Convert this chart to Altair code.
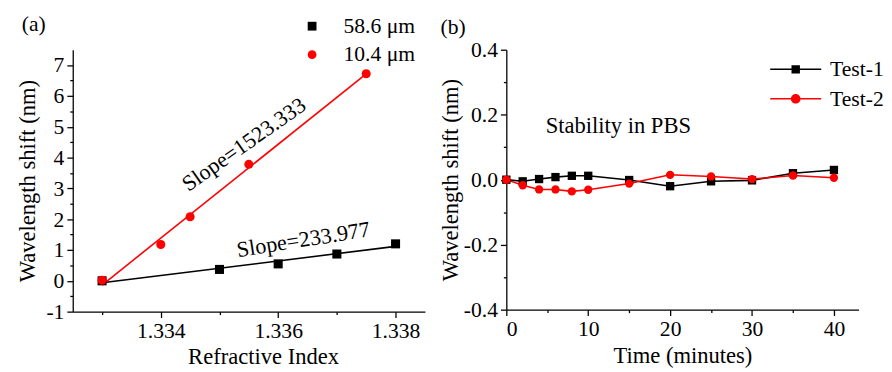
import altair as alt
import pandas as pd

FONT = "Liberation Serif"

# ---------- panel (a) data ----------
series_a = ["58.6 μm", "10.4 μm"]
colors = ["#000000", "#ff0000"]
ri_58 = [1.333, 1.335, 1.336, 1.337, 1.338]
shift_58 = [0.0, 0.37, 0.55, 0.87, 1.20]
ri_10 = [1.333, 1.334, 1.3345, 1.3355, 1.3375]
shift_10 = [0.02, 1.18, 2.08, 3.78, 6.72]

slope_text = ["Slope=1523.333", "Slope=233.977"]
slope_ri = [1.33542, 1.33643]
slope_shift = [4.42, 1.33]
slope_angle = [325, 351]

xa_ticks = [1.333, 1.334, 1.335, 1.336, 1.337, 1.338]
ya_ticks = [-1, -0.5, 0, 0.5, 1, 1.5, 2, 2.5, 3, 3.5, 4, 4.5, 5, 5.5, 6, 6.5, 7]

# ---------- panel (b) data ----------
series_b = ["Test-1", "Test-2"]
time_min = [0, 2, 4, 6, 8, 10, 15, 20, 25, 30, 35, 40]
test1 = [0.0, -0.005, 0.002, 0.008, 0.012, 0.012, -0.001, -0.02, -0.005, -0.002, 0.02, 0.03]
test2 = [0.0, -0.017, -0.03, -0.03, -0.036, -0.031, -0.012, 0.015, 0.01, 0.002, 0.013, 0.006]
note_text = ["Stability in PBS"]
note_time = [4.8]
note_shift = [0.165]

xb_ticks = [0, 5, 10, 15, 20, 25, 30, 35, 40]
yb_ticks = [-0.4, -0.3, -0.2, -0.1, 0, 0.1, 0.2, 0.3, 0.4]

# ---------- tables ----------
df_a = pd.DataFrame({
    "ri": ri_58 + ri_10,
    "shift": shift_58 + shift_10,
    "series": [series_a[0]] * len(ri_58) + [series_a[1]] * len(ri_10),
})
df_slope = pd.DataFrame({"ri": slope_ri, "shift": slope_shift, "text": slope_text, "angle": slope_angle})

df_b = pd.DataFrame({
    "time": time_min + time_min,
    "shift": test1 + test2,
    "series": [series_b[0]] * len(time_min) + [series_b[1]] * len(time_min),
})
df_note = pd.DataFrame({"time": note_time, "shift": note_shift, "text": note_text})

def tick_size(test):
    return {"condition": {"test": test, "value": 6}, "value": 3}

# ---------- panel (a) ----------
xa_major = "round(datum.value*1000) % 2 == 0"
xa = alt.X("ri:Q", scale=alt.Scale(domain=[1.3325, 1.3385], nice=False, zero=False),
           axis=alt.Axis(title="Refractive Index", values=xa_ticks,
                         labelExpr=f"{xa_major} ? format(datum.value, '.3f') : ''",
                         tickSize=tick_size(xa_major), titleX=194, titlePadding=5))
ya_major = "datum.value % 1 == 0"
ya = alt.Y("shift:Q", scale=alt.Scale(domain=[-1, 7.5], nice=False, zero=False),
           axis=alt.Axis(title="Wavelength shift (nm)", values=ya_ticks,
                         labelExpr=f"{ya_major} ? ((datum.value < 0 ? '-' : '') + format(abs(datum.value), 'd')) : ''",
                         tickSize=tick_size(ya_major), titlePadding=7))
color_a_scale = alt.Scale(domain=series_a, range=colors)
color_a_cond = alt.condition(f"datum.series == '{series_a[0]}'", alt.value(colors[0]), alt.value(colors[1]))

fit_a = alt.Chart(df_a).transform_regression(
    "ri", "shift", groupby=["series"]
).mark_line(strokeWidth=1.6).encode(
    x=xa, y=ya, color=color_a_cond, detail="series:N"
)
legend_a = alt.Legend(title=None, orient="none", legendX=233, legendY=-35, padding=0,
                      labelFont=FONT, labelFontSize=22, labelColor="black",
                      symbolSize=80, symbolStrokeWidth=0, labelOffset=21, rowPadding=7)
pts_a = alt.Chart(df_a).mark_point(filled=True, size=85, opacity=1).encode(
    x=xa, y=ya,
    color=alt.Color("series:N", scale=color_a_scale, legend=legend_a),
    shape=alt.Shape("series:N", scale=alt.Scale(domain=series_a, range=["square", "circle"]), legend=legend_a),
)
txt_a = alt.Chart(df_slope).mark_text(font=FONT, fontSize=22.5, align="center", baseline="middle", color="black").encode(
    x=xa, y=ya, text="text:N", angle=alt.Angle("angle:Q", scale=None)
)
panel_a = alt.layer(fit_a, pts_a, txt_a).properties(
    width=359, height=267,
    title=alt.TitleParams("(a)", anchor="start", frame="group", font=FONT, fontSize=22,
                          fontWeight="normal", color="black", dx=-52, offset=-21),
)

# ---------- panel (b) ----------
xb_major = "datum.value % 10 == 0"
xb = alt.X("time:Q", scale=alt.Scale(domain=[0, 43], nice=False, zero=False),
           axis=alt.Axis(title="Time (minutes)", values=xb_ticks,
                         labelExpr=f"{xb_major} ? format(datum.value, 'd') : ''",
                         tickSize=tick_size(xb_major), titlePadding=6))
yb_major = "round(datum.value*10) % 2 == 0"
yb = alt.Y("shift:Q", scale=alt.Scale(domain=[-0.4, 0.4], nice=False, zero=False),
           axis=alt.Axis(title="Wavelength shift (nm)", values=yb_ticks,
                         labelExpr=f"{yb_major} ? ((datum.value < -0.0001 ? '-' : '') + format(abs(datum.value), '.1f')) : ''",
                         tickSize=tick_size(yb_major), titlePadding=1))
color_b_scale = alt.Scale(domain=series_b, range=colors)
color_b_cond = alt.condition(f"datum.series == '{series_b[0]}'", alt.value(colors[0]), alt.value(colors[1]))

path_sq = "M-2,-0.06H-0.33V0.06H-2Z M0.33,-0.06H2V0.06H0.33Z M-0.33,-0.33H0.33V0.33H-0.33Z"
path_ci = ("M-2,-0.06H-0.38V0.06H-2Z M0.38,-0.06H2V0.06H0.38Z "
           "M-0.38,0A0.38,0.38 0 1,1 0.38,0A0.38,0.38 0 1,1 -0.38,0Z")

lines_b = alt.Chart(df_b).mark_line(strokeWidth=1.6).encode(
    x=xb, y=yb, color=color_b_cond, detail="series:N"
)
pts_b = alt.Chart(df_b).mark_point(filled=True, size=72, opacity=1).encode(
    x=xb, y=yb, color=color_b_cond,
    shape=alt.condition(f"datum.series == '{series_b[0]}'", alt.value("square"), alt.value("circle")),
)
legend_b = alt.Legend(title=None, orient="none", legendX=282, legendY=7, padding=0,
                      labelFont=FONT, labelFontSize=22, labelColor="black",
                      symbolSize=676, symbolStrokeWidth=0, symbolOpacity=1, labelOffset=22, rowPadding=6)
leg_b = alt.Chart(df_b).mark_point(filled=True, opacity=0).encode(
    x=xb, y=yb,
    color=alt.Color("series:N", scale=color_b_scale, legend=legend_b),
    shape=alt.Shape("series:N", scale=alt.Scale(domain=series_b, range=[path_sq, path_ci]), legend=legend_b),
)
txt_b = alt.Chart(df_note).mark_text(font=FONT, fontSize=23, align="left", baseline="middle", color="black").encode(
    x=xb, y=yb, text="text:N"
)
panel_b = alt.layer(lines_b, pts_b, leg_b, txt_b).properties(
    width=359, height=265,
    title=alt.TitleParams("(b)", anchor="start", frame="group", font=FONT, fontSize=22,
                          fontWeight="normal", color="black", dx=-67, offset=0),
)

chart = alt.hconcat(panel_a, panel_b, spacing=15).resolve_scale(
    color="independent", shape="independent"
).resolve_legend(color="independent", shape="independent").properties(
    padding={"left": 8, "top": 2, "right": 0, "bottom": 0}
).configure_view(stroke=None).configure_axis(
    grid=False, domainColor="black", domainWidth=1.3, tickColor="black", tickWidth=1.3,
    labelFont=FONT, labelFontSize=22, labelColor="black", labelPadding=3,
    titleFont=FONT, titleFontSize=23, titleFontWeight="normal", titleColor="black",
)

chart.save("out.html", embed_options={"renderer": "svg", "actions": False})
